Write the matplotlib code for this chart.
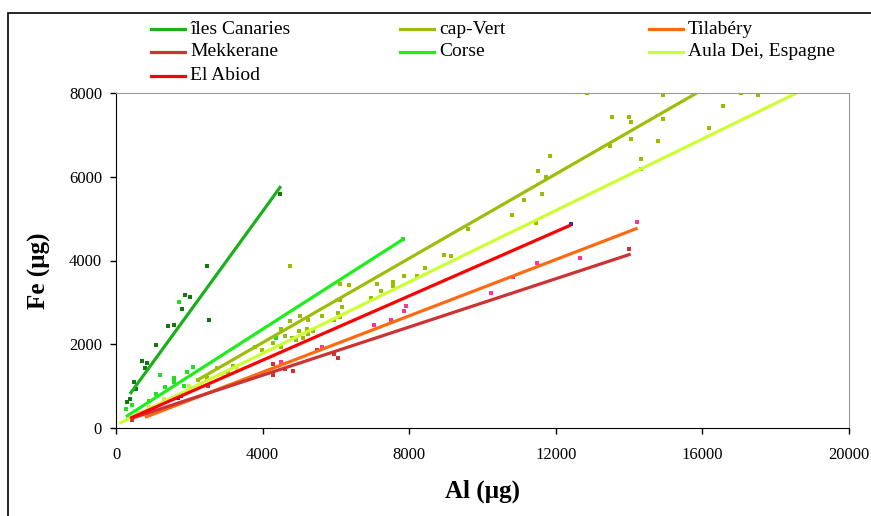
import matplotlib
matplotlib.use("Agg")
import matplotlib.pyplot as plt
from matplotlib.lines import Line2D
from matplotlib.patches import Rectangle

plt.rcParams['font.family'] = ['Liberation Serif', 'DejaVu Serif']

# regression lines: (Al start, Al end), (Fe start, Fe end)
series = ["îles Canaries", "cap-Vert", "Tilabéry", "Mekkerane", "Corse", "Aula Dei, Espagne", "El Abiod"]
colors = ["#1BB01B", "#9CBE0A", "#FF6A10", "#CC3333", "#1EEE1E", "#CCFF33", "#FF0000"]
line_al = [(380, 4500), (2228, 15844), (791, 14233), (428, 14043), (270, 7840), (90, 18573), (382, 12406)]
line_fe = [(811, 5776), (1146, 8000), (255, 4773), (231, 4153), (270, 4510), (112, 8000), (231, 4845)]

# measured points
canaries_al = [309, 382, 500, 534, 718, 791, 834, 1091, 1428, 1583, 1810, 1883, 2019, 2474, 2547, 4475]
canaries_fe = [613, 685, 1106, 931, 1599, 1425, 1559, 1980, 2434, 2458, 2840, 3174, 3134, 3866, 2578, 5578]

corse_al = [273, 450, 910, 1091, 1200, 1337, 1583, 1583, 1719, 1865, 1928, 2110, 4366, 7839]
corse_fe = [446, 560, 651, 804, 1265, 971, 1201, 1090, 3015, 1002, 1329, 1464, 2155, 4511]

capvert_al = [2246, 2474, 2747, 3062, 3201, 3793, 3975, 4275, 4492, 4502, 4611, 4756, 4756, 4792,
              4911, 4984, 5020, 5093, 5202, 5248, 5248, 5384, 5620, 5957, 6066, 6112, 6112, 6158,
              6112, 6366, 6966, 7121, 7230, 7567, 7567, 7867, 8204, 8431, 8958, 9141, 9596, 10796,
              11132, 11460, 11615, 11724, 11506, 11842, 12841, 13479, 13525, 14006, 14043, 14043,
              14316, 14316, 14797, 14934, 14934, 16180, 16554, 17045, 17526]
capvert_fe = [1146, 1186, 1425, 1344, 1480, 1926, 1862, 2021, 1926, 2356, 2196, 2546, 3866, 2155,
              2100, 2315, 2680, 2155, 2356, 2251, 2578, 2315, 2680, 2578, 2737, 2649, 3055, 2880,
              3437, 3406, 3110, 3437, 3277, 3477, 3389, 3635, 3635, 3826, 4129, 4098, 4757, 5076,
              5442, 4885, 5578, 5998, 6134, 6499, 7992, 6730, 7415, 7415, 7310, 6890,
              6427, 6174, 6857, 7391, 7947, 7153, 7685, 7990, 7947]

aula_al = [600, 900, 1300, 2000, 2900, 3300]
aula_fe = [350, 500, 700, 1000, 1300, 1420]

pink_al = [700, 1000, 4502, 5620, 7048, 7494, 7867, 7913, 10232, 10823, 11496, 12660, 14207]
pink_fe = [330, 450, 1568, 1926, 2451, 2585, 2785, 2912, 3215, 3611, 3931, 4064, 4909]

red_al = [428, 850, 2519, 4275, 4275, 4611, 4838, 5475, 5957, 6066, 14006]
red_fe = [191, 380, 1002, 1520, 1265, 1408, 1368, 1862, 1759, 1663, 4265]

blue_al = [1701, 1760, 12406]
blue_fe = [709, 770, 4869]

fig = plt.figure(figsize=(8.71, 5.16), dpi=100)
ax = fig.add_axes([116/871, 1-428/516, (849-116)/871, (428-93)/516])

ms = 2.8
ax.plot(canaries_al, canaries_fe, "s", color="#117711", ms=ms, mew=0)
ax.plot(corse_al, corse_fe, "s", color="#22DD22", ms=ms, mew=0)
ax.plot(capvert_al, capvert_fe, "s", color="#99BB00", ms=ms, mew=0)
ax.plot(aula_al, aula_fe, "s", color="#CCEE55", ms=ms, mew=0)
ax.plot(pink_al, pink_fe, "s", color="#FF3399", ms=ms, mew=0)
ax.plot(red_al, red_fe, "s", color="#CC3333", ms=ms, mew=0)
ax.plot(blue_al, blue_fe, "s", color="#333399", ms=ms, mew=0)

for name, c, xa, ya in zip(series, colors, line_al, line_fe):
    ax.plot(xa, ya, "-", color=c, lw=2.3, solid_capstyle="butt")

ax.set_xlim(0, 20000)
ax.set_ylim(0, 8000)
ax.set_xticks([0, 4000, 8000, 12000, 16000, 20000])
ax.set_yticks([0, 2000, 4000, 6000, 8000])
ax.tick_params(direction="out", length=4.5, width=1, labelsize=12, colors="black")
ax.tick_params(axis="y", pad=5.5)
ax.tick_params(axis="x", pad=9)
for s in ["top", "right"]:
    ax.spines[s].set_color("#999999")
for s in ["left", "bottom"]:
    ax.spines[s].set_color("black")

ax.set_xlabel("Al (µg)", fontsize=18, fontweight="bold", labelpad=12)
ax.set_ylabel("Fe (µg)", fontsize=18, fontweight="bold")
ax.yaxis.set_label_coords(-0.089, 0.47)

# legend laid out row by row, three columns
col_x = [151, 400, 649]
row_y = [29, 52, 76]
for i, (name, c) in enumerate(zip(series, colors)):
    r, k = divmod(i, 3)
    x0 = col_x[k]
    y0 = 1 - row_y[r]/516
    fig.add_artist(Line2D([x0/871, (x0+34)/871], [y0, y0], color=c, lw=2.3))
    fig.text((x0+39)/871, y0, name, fontsize=14, va="center", ha="left")

fig.add_artist(Rectangle((8/871, -0.1), 1.2, 1.1 - 12.5/516, fill=False,
                         edgecolor="black", lw=1.2, transform=fig.transFigure))

plt.savefig("out.png", dpi=100)
